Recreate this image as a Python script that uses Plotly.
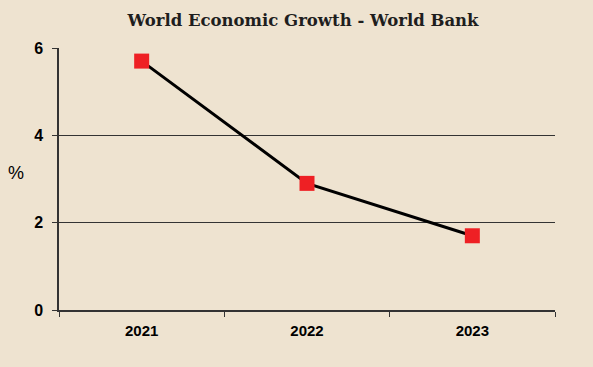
import plotly.graph_objects as go

years = ["2021", "2022", "2023"]
growth = [5.7, 2.9, 1.7]
y_ticks = [0, 2, 4, 6]

bg = "#EEE3D0"
fig = go.Figure()
fig.add_trace(go.Scatter(
    x=years, y=growth, mode="lines+markers",
    line=dict(color="#000000", width=3),
    marker=dict(symbol="square", size=15, color="#EE2024", line=dict(width=0)),
    hoverinfo="x+y", showlegend=False,
))
fig.update_layout(
    width=593, height=367,
    paper_bgcolor=bg, plot_bgcolor=bg,
    margin=dict(l=59, r=38, t=48, b=57),
    title=dict(text="World Economic Growth - World Bank", x=0.511, xanchor="center",
               y=0.945, yanchor="middle",
               font=dict(family="DejaVu Serif, serif", size=16.5, color="#1E1E1E", weight="bold")),
    xaxis=dict(type="category", range=[-0.5, 2.5], tickson="boundaries",
               ticks="outside", ticklen=5, tickcolor="#333333", tickwidth=1,
               showline=True, linecolor="#333333", linewidth=2, showgrid=False,
               ticklabelstandoff=6,
               tickfont=dict(family="Liberation Sans, Arial, sans-serif", size=15, color="#000000", weight="bold")),
    yaxis=dict(range=[0, 6], tickvals=y_ticks, ticks="outside", ticklen=5,
               tickcolor="#333333", showline=True, linecolor="#333333", linewidth=1.5,
               showgrid=True, gridcolor="#333333", gridwidth=1, zeroline=False,
               ticklabelstandoff=6,
               tickfont=dict(family="Liberation Sans, Arial, sans-serif", size=16, color="#000000", weight="bold")),
    annotations=[dict(text="%", xref="paper", yref="paper", x=-0.087, y=0.523,
                      xanchor="center", yanchor="middle", showarrow=False,
                      font=dict(family="Liberation Sans, Arial, sans-serif", size=18, color="#000000"))],
)
fig.write_html("out.html", config={"displayModeBar": False},
               post_script="document.body.style.margin='0';document.body.style.background='%s';" % bg)
